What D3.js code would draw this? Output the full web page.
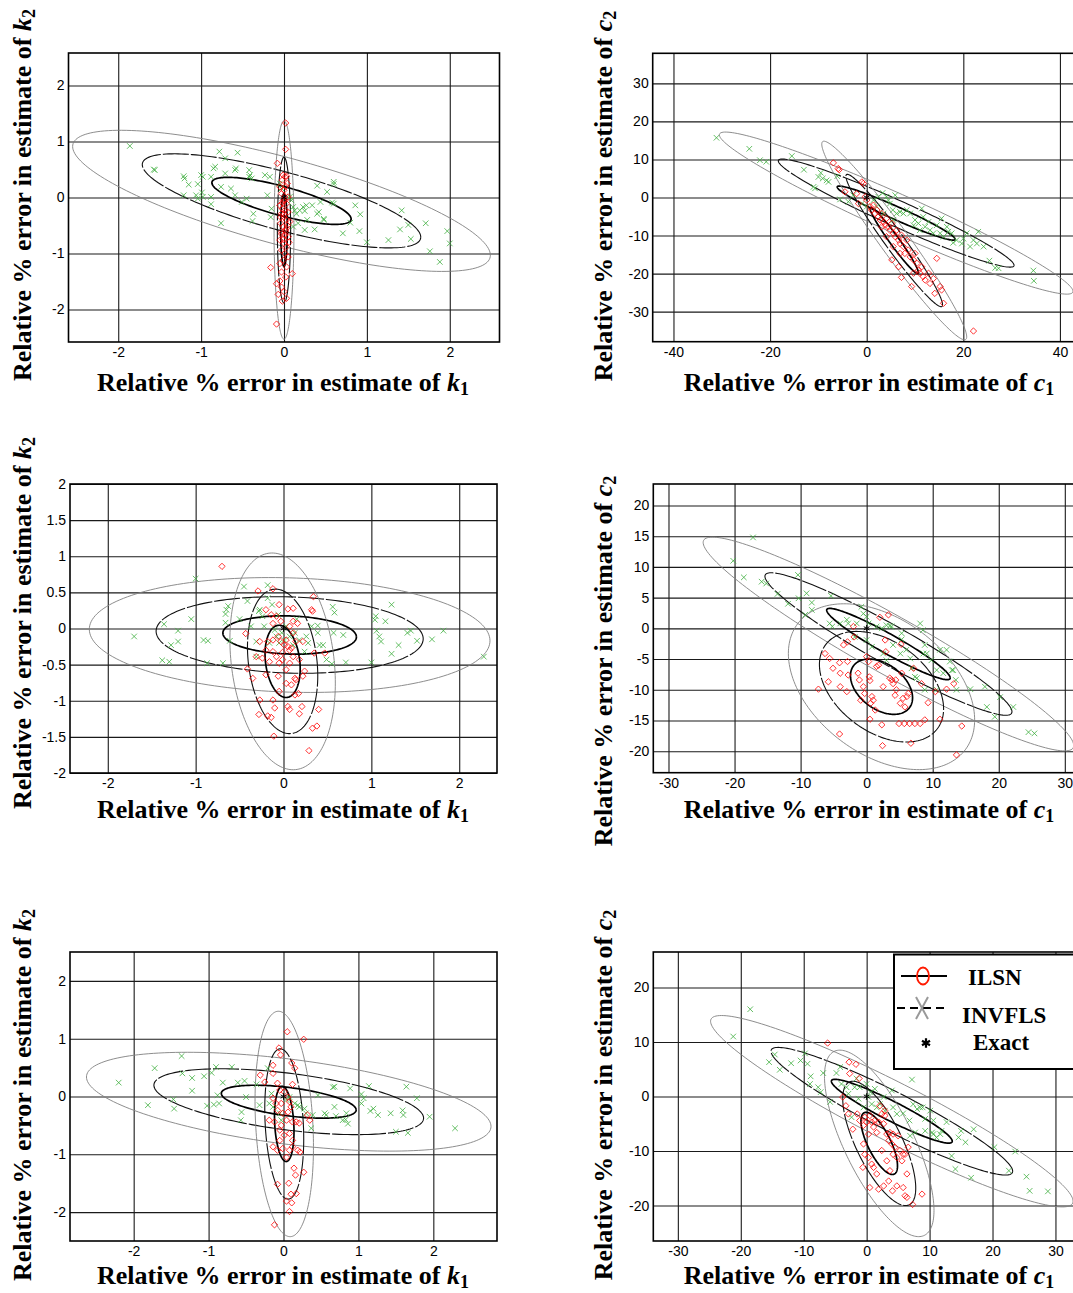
<!DOCTYPE html>
<html><head><meta charset="utf-8">
<script src="https://cdn.jsdelivr.net/npm/d3@7"></script>
<style>body{margin:0;background:#fff}</style>
</head><body>
<svg id="c" width="1073" height="1293"></svg>
<script>
// ---------------- DATA ----------------
const seriesNames = ["ILSN", "INVFLS", "Exact"];
const ellipseLevels = [1, 2, 3];

// tick values and labels
const kTicks = [-2, -1, 0, 1, 2];
const kTickLabels = ["-2", "-1", "0", "1", "2"];
const k2TicksHalf = [-2, -1.5, -1, -0.5, 0, 0.5, 1, 1.5, 2];
const k2TicksHalfLabels = ["-2", "-1.5", "-1", "-0.5", "0", "0.5", "1", "1.5", "2"];
const c1Ticks40 = [-40, -20, 0, 20, 40];
const c1Ticks40Labels = ["-40", "-20", "0", "20", "40"];
const c2Ticks30 = [-30, -20, -10, 0, 10, 20, 30];
const c2Ticks30Labels = ["-30", "-20", "-10", "0", "10", "20", "30"];
const c1Ticks30 = [-30, -20, -10, 0, 10, 20, 30];
const c1Ticks30Labels = ["-30", "-20", "-10", "0", "10", "20", "30"];
const c2Ticks5 = [-20, -15, -10, -5, 0, 5, 10, 15, 20];
const c2Ticks5Labels = ["-20", "-15", "-10", "-5", "0", "5", "10", "15", "20"];
const c2Ticks10 = [-20, -10, 0, 10, 20];
const c2Ticks10Labels = ["-20", "-10", "0", "10", "20"];

// ellipse parameters [cx, cy, sx, sy, rho]
const ell1ILSN = [0, -0.58, 0.04, 0.65, 0];
const ell1INV = [-0.03, -0.06, 0.84, 0.42, -0.77];
const ell2ILSN = [5.7, -11.3, 5.0, 8.7, -0.97];
const ell2INV = [6.1, -4.1, 12.2, 7.1, -0.965];
const ell3ILSN = [-0.01, -0.455, 0.2, 0.5, -0.2];
const ell3INV = [0.07, -0.09, 0.76, 0.265, -0.1];
const ell4ILSN = [2.25, -9.5, 4.7, 4.5, -0.4];
const ell4INV = [3.3, -2.55, 9.35, 5.8, -0.95];
const ell5ILSN = [0.01, -0.475, 0.13, 0.65, -0.2];
const ell5INV = [0.07, -0.09, 0.9, 0.285, -0.5];
const ell6ILSN = [2, -8.6, 2.9, 5.7, -0.72];
const ell6INV = [4, -2.7, 9.6, 5.85, -0.94];

// exact value
const exactPoint = [0, 0];

// Panel 1 (k1,k2)
const p1ILSN = [[0.02,1.33],[0.02,0.86],[-0.08,0.61],[-0.01,0.40],[0.01,0.37],[0.03,0.38],[-0.02,0.31],[0.04,0.25],[-0.05,0.19],[0,0.13],[-0.03,0.07],[0.01,0.01],[0.05,0.01],[-0.01,-0.05],[0.03,-0.11],[-0.05,-0.14],[-0.02,-0.20],[0.01,-0.23],[0.05,-0.26],[-0.03,-0.29],[0,-0.35],[0.03,-0.40],[0.07,-0.43],[-0.04,-0.46],[-0.01,-0.52],[0.03,-0.55],[-0.03,-0.61],[0.01,-0.67],[0.05,-0.70],[-0.05,-0.76],[0,-0.82],[0.03,-0.88],[-0.03,-0.94],[0.01,-1.00],[0.05,-1.06],[-0.01,-1.12],[-0.05,-1.18],[0.03,-1.24],[-0.16,-1.25],[0.10,-1.36],[-0.03,-1.33],[0.02,-1.42],[-0.05,-1.49],[-0.09,-1.54],[-0.03,-1.60],[0,-1.68],[-0.07,-1.73],[0.03,-1.80],[-0.02,-1.85],[-0.09,-2.26],[0.0,-0.3],[-0.02,-0.1],[0.02,-0.6],[-0.01,-0.75],[0.04,-0.5],[-0.04,-0.35],[0.01,-0.05],[0.02,0.2],[-0.03,-0.65],[0.06,-0.8]];
const p1INV = [[-1.86,0.92],[-1.56,0.49],[-1.57,0.50],[-1.21,0.38],[-1.20,0.34],[-1.15,0.23],[-1.04,0.24],[-1.00,0.40],[-0.98,0.37],[-1.06,0.04],[-1.04,-0.02],[-0.99,0.09],[-1.21,0.04],[-0.88,0.37],[-0.85,0.52],[-0.83,0.55],[-0.78,0.82],[-0.71,0.70],[-0.56,0.80],[-0.58,0.52],[-0.59,0.49],[-0.71,0.43],[-0.76,0.19],[-0.64,0.16],[-0.88,-0.12],[-0.98,0.01],[-0.88,0.01],[-0.76,-0.46],[-0.59,0.04],[-0.51,-0.08],[-0.45,-0.02],[-0.42,0.49],[-0.41,0.40],[-0.39,0.34],[-0.42,0.37],[-0.37,-0.29],[-0.38,-0.42],[-0.23,0.40],[-0.17,0.37],[-0.20,0.04],[-0.15,-0.20],[-0.16,-0.35],[-0.05,0.25],[-0.03,0.16],[0.07,0.01],[0.09,-0.05],[0.11,-0.17],[0.13,-0.23],[0.15,-0.29],[0.19,-0.23],[0.23,-0.17],[0.25,-0.24],[0.27,-0.14],[0.28,-0.40],[0.34,-0.14],[0.40,0.21],[0.42,-0.26],[0.40,-0.29],[0.44,-0.08],[0.48,-0.40],[0.48,-0.38],[0.25,-0.58],[0.37,-0.57],[0.17,-0.46],[0.11,-0.52],[0.52,0.10],[0.60,0.24],[0.60,0.28],[0.58,-0.09],[0.60,-0.11],[0.71,-0.64],[0.80,-0.45],[0.86,-0.14],[0.92,-0.30],[0.91,-0.60],[1.00,-0.80],[1.26,-0.76],[1.40,-0.57],[1.42,-0.23],[1.50,-0.49],[1.53,-0.74],[1.71,-0.46],[1.76,-0.96],[1.88,-1.15],[1.97,-0.60],[2.00,-0.82]];

// Panel 2 (c1,c2)
const p2ILSN = [[-6.9,9.1],[-5.9,7.6],[-5.7,7.3],[-4.5,1.5],[-2.1,1.0],[-1.7,-1.6],[-1.0,4.1],[-0.7,3.7],[-0.3,0.2],[0,-0.7],[0.7,-2.4],[1.0,-3.3],[1.4,-2.0],[1.7,-4.2],[2.1,-3.3],[2.4,-5.1],[2.8,-5.9],[3.1,-4.2],[3.5,-6.4],[3.8,-7.3],[4.1,-5.5],[4.5,-7.7],[4.8,-8.6],[5.2,-6.8],[5.5,-9.4],[5.9,-10.3],[6.2,-8.6],[6.6,-11.2],[6.9,-12.1],[7.2,-9.9],[7.6,-12.9],[7.9,-14.7],[8.3,-11.2],[8.6,-13.8],[9.0,-15.6],[9.7,-16.4],[10.0,-14.7],[10.4,-17.3],[10.7,-19.1],[11.0,-19.9],[11.4,-18.2],[11.7,-20.8],[12.1,-21.7],[12.8,-19.9],[13.1,-22.6],[13.8,-21.3],[14.5,-16.0],[14.1,-25.2],[15.2,-23.4],[15.5,-24.3],[15.9,-27.8],[22.1,-35.1],[5.2,-16.4],[7.2,-21.0],[9.3,-23.4],[6.6,-18.2],[9.7,-19.9],[4.1,-10.3],[3.1,-7.7],[5.5,-12.9],[6.9,-14.7]];
const p2INV = [[-31.1,15.7],[-24.3,12.8],[-22.1,9.8],[-20.8,9.4],[-15.5,10.9],[-13.0,7.3],[-11.0,2.8],[-10.7,2.4],[-10.0,5.4],[-9.5,6.5],[-9.1,5.0],[-8.3,4.5],[-7.9,4.1],[-6.1,5.6],[-5.5,-0.5],[-3.8,-1.1],[-2.8,0.6],[-1.0,-1.6],[0,-2.4],[1.4,-0.7],[2.4,0.2],[3.3,1.2],[4.1,0.2],[4.5,-0.7],[5.9,0.6],[5.4,-3.3],[6.2,-4.2],[6.9,-3.8],[7.6,-4.2],[8.3,-3.3],[9.0,-4.2],[10.0,-5.9],[10.7,-6.8],[11.4,-2.9],[11.7,-5.1],[12.1,-7.7],[12.8,-6.4],[13.1,-8.6],[13.8,-9.4],[14.5,-7.3],[15.2,-9.4],[15.5,-5.5],[15.9,-10.3],[16.9,-9.0],[17.6,-9.4],[18.6,-11.2],[19.7,-12.1],[20.0,-10.8],[20.7,-9.4],[21.4,-12.9],[22.1,-11.2],[23.1,-9.0],[22.8,-12.1],[24.2,-12.9],[25.4,-16.6],[26.6,-18.5],[27.3,-18.6],[34.5,-19.2],[34.6,-21.9],[2.1,-2.4],[3.5,-4.2],[4.8,-1.6],[9.7,-7.3],[11.0,-8.6],[5.5,-5.9],[17.9,-11.9],[16.6,-7.7]];

// Panel 3 (k1,k2)
const p3ILSN = [[-0.70,0.86],[-0.29,0.52],[-0.12,0.55],[-0.05,0.33],[0.05,0.27],[0.11,0.28],[0.34,0.44],[0.32,0.26],[0.33,0.24],[-0.20,0.26],[-0.14,0.19],[-0.08,0.17],[-0.03,0.10],[-0.12,0.07],[0.07,0.03],[0.16,0.07],[-0.43,-0.07],[-0.27,-0.18],[-0.20,-0.30],[-0.18,-0.18],[-0.12,-0.16],[-0.06,-0.11],[-0.03,-0.18],[0.01,-0.23],[0.05,-0.25],[0.07,-0.30],[0.09,-0.27],[0.11,-0.06],[0.14,-0.18],[0.22,-0.18],[0.35,-0.34],[0.47,-0.34],[-0.31,-0.39],[-0.24,-0.41],[-0.16,-0.46],[-0.12,-0.32],[-0.08,-0.39],[-0.05,-0.48],[-0.01,-0.43],[0.03,-0.57],[0.07,-0.48],[0.11,-0.39],[0.18,-0.43],[0.24,-0.59],[0.22,-0.66],[-0.41,-0.56],[-0.35,-0.69],[-0.20,-0.64],[-0.06,-0.66],[0.03,-0.76],[0.09,-0.78],[0.13,-0.69],[0.14,-0.71],[-0.27,-0.99],[-0.12,-0.99],[-0.05,-0.87],[0.13,-0.92],[0.17,-0.90],[-0.10,-1.10],[0.05,-1.08],[0.07,-1.12],[0.21,-1.08],[0.18,-1.18],[0.40,-1.12],[-0.28,-1.19],[-0.18,-1.21],[-0.14,-1.23],[0.38,-1.35],[0.33,-1.38],[-0.11,-1.49],[0.29,-1.69],[-0.01,-0.33],[0.03,-0.16],[0.11,0.10]];
const p3INV = [[-1.70,-0.11],[-1.36,0.06],[-1.38,-0.44],[-1.30,-0.46],[-1.28,-0.23],[-1.20,-0.03],[-1.20,-0.18],[-1.05,0.13],[-1.00,0.69],[-0.91,-0.16],[-0.86,-0.17],[-0.87,-0.48],[-0.69,-0.48],[-0.66,0.08],[-0.66,0.20],[-0.65,0.26],[-0.63,0.31],[-0.61,-0.17],[-0.50,0.13],[-0.45,0.58],[-0.41,0.38],[-0.37,0.03],[-0.31,-0.18],[-0.31,-0.39],[-0.28,0.24],[-0.27,0.26],[-0.24,0.17],[-0.22,0.03],[-0.18,0.60],[-0.18,0.42],[-0.16,-0.20],[-0.13,0.33],[-0.10,-0.02],[-0.08,-0.11],[-0.06,0.19],[-0.05,-0.20],[-0.02,-0.06],[0.01,-0.16],[0.03,0.03],[0.07,-0.11],[0.11,-0.23],[0.13,-0.06],[0.15,0.13],[0.18,-0.16],[0.24,-0.32],[0.26,-0.11],[0.28,-0.20],[0.32,0.03],[0.39,0.04],[0.39,-0.06],[0.41,-0.23],[0.45,-0.23],[0.49,-0.43],[0.56,0.30],[0.58,0.22],[0.57,-0.06],[0.55,-0.49],[0.68,-0.09],[0.71,-0.47],[1.00,-0.47],[1.04,0.12],[1.05,0.17],[1.06,-0.03],[1.09,-0.11],[1.11,-0.18],[1.16,0.10],[1.23,0.33],[1.23,-0.35],[1.31,-0.23],[1.41,-0.06],[1.45,-0.03],[1.52,-0.17],[1.69,-0.15],[1.82,-0.03],[2.28,-0.39]];

// Panel 4 (c1,c2)
const p4ILSN = [[-7.3,-9.9],[-6.3,-4.1],[-5.6,-4.9],[-5.8,-8.7],[-5.1,-6.5],[-4.1,-5.6],[-4.0,-7.3],[-4.0,-9.5],[-3.5,-2.7],[-2.9,-2.2],[-2.9,-5.4],[-2.8,-7.6],[-3.0,-10.3],[-4.1,-17.2],[-2.0,0.3],[-1.9,-1.4],[-1.3,-7.3],[-1.1,-8.4],[-0.9,-11.7],[-0.5,-9.5],[-0.3,-10.6],[0,-4.6],[0.3,-5.4],[0.4,-7.9],[0.5,-8.5],[0.6,-12.2],[0.5,-14.8],[0.8,-11.1],[1.0,-11.7],[1.3,-13.3],[1.5,-6.2],[1.8,-6.0],[2.0,1.8],[2.3,-15.7],[2.4,-19.1],[2.5,-9.5],[2.8,-1.9],[2.9,-3.8],[3.3,2.2],[3.5,-8.1],[3.8,-8.4],[4.0,-9.0],[4.3,-10.9],[4.4,-8.4],[4.5,-10.0],[4.9,-15.5],[5.1,-12.2],[5.2,-2.6],[5.3,-7.3],[5.5,-11.4],[5.7,-15.5],[5.8,-12.8],[6.1,-11.1],[6.3,-10.6],[6.5,-15.5],[6.7,-18.7],[7.1,-6.5],[7.3,-15.5],[8.1,-15.5],[8.3,-9.0],[8.8,-14.9],[9.3,-12.1],[10.4,-10.3],[11.1,-14.8],[12.1,-9.9],[13.2,-9.0],[13.6,-20.6],[14.4,-15.9]];
const p4INV = [[-17.2,14.8],[-20.2,11.0],[-18.6,8.3],[-15.9,7.6],[-15.2,7.3],[-13.5,5.6],[-11.9,4.0],[-10.4,8.7],[-10.3,4.9],[-9.1,5.7],[-9.3,2.2],[-8.3,4.2],[-8.3,3.0],[-5.4,5.3],[-5.6,0.8],[-5.2,0.3],[-4.0,0.8],[-3.0,1.4],[-2.8,0.8],[-1.8,-1.4],[-1.5,0.8],[-0.8,3.5],[-0.5,2.4],[0,1.9],[0.3,0.8],[0,-1.9],[0.8,-3.0],[1.5,0.3],[2.3,0],[3.0,0.5],[3.5,0.4],[3.8,0.3],[2.5,-4.1],[3.0,-5.2],[4.0,-2.7],[5.3,-0.8],[5.3,-1.8],[5.1,-4.1],[6.0,-3.5],[6.6,-4.9],[6.8,-6.5],[7.3,-7.9],[7.6,-8.1],[8.1,0.8],[8.5,-0.3],[8.6,-4.1],[8.8,-2.7],[9.1,-4.1],[8.8,-10.0],[9.8,-5.2],[10.6,-6.8],[10.6,-10.0],[11.1,-3.5],[11.6,-7.3],[12.6,-5.4],[12.9,-6.8],[13.1,-6.8],[13.5,-8.4],[13.6,-10.0],[15.7,-9.9],[17.9,-9.5],[18.2,-12.8],[19.4,-14.4],[20.2,-11.2],[22.2,-12.8],[24.5,-16.9],[25.4,-17.1],[12.1,-3.5]];

// Panel 5 (k1,k2)
const p5ILSN = [[0.05,1.12],[0.27,0.99],[-0.06,0.84],[-0.04,0.72],[0.11,0.58],[0.15,0.49],[-0.14,0.54],[-0.31,0.37],[-0.25,0.25],[-0.14,0.40],[-0.08,0.23],[0.12,0.21],[-0.05,0.11],[0.01,0.08],[-0.14,-0.03],[-0.10,-0.12],[-0.03,-0.12],[0.06,-0.01],[0.08,-0.09],[0.10,-0.18],[-0.08,-0.24],[-0.01,-0.29],[0.06,-0.27],[-0.19,-0.41],[-0.12,-0.44],[-0.03,-0.50],[0.04,-0.41],[0.12,-0.44],[0.17,-0.44],[0.21,-0.46],[0.32,-0.32],[0.35,-0.41],[-0.05,-0.58],[0.01,-0.67],[0.08,-0.64],[0.12,-0.76],[-0.05,-0.76],[-0.14,-0.87],[-0.08,-0.93],[-0.01,-0.90],[0.08,-0.93],[0.12,-0.87],[0.19,-0.93],[0.22,-0.96],[0.04,-1.05],[0.14,-1.24],[0.16,-1.36],[0.27,-1.31],[-0.08,-1.52],[0.07,-1.50],[0.10,-1.69],[0.17,-1.68],[0.04,-1.81],[0.11,-1.84],[0.08,-1.99],[-0.12,-2.22]];
const p5INV = [[-2.20,0.24],[-1.81,-0.15],[-1.72,0.49],[-1.47,-0.05],[-1.46,-0.21],[-1.36,0.70],[-1.35,0.40],[-1.22,0.32],[-1.22,0.10],[-1.06,0.35],[-1.02,-0.16],[-0.96,0.41],[-0.93,-0.14],[-0.90,0.51],[-0.88,0.02],[-0.86,-0.12],[-0.81,0.24],[-0.69,0.51],[-0.61,0.24],[-0.56,-0.27],[-0.57,-0.41],[-0.52,0.27],[-0.50,-0.01],[-0.36,0.21],[-0.32,-0.15],[-0.21,0.49],[-0.19,-0.12],[-0.16,0.05],[-0.14,-0.18],[-0.05,-0.29],[-0.03,-0.41],[0.04,-0.06],[0.08,-0.01],[0.15,-0.12],[0.19,-0.15],[0.21,-0.18],[0.28,-0.21],[0.30,-0.29],[0.37,-0.55],[0.39,-0.32],[0.46,0.02],[0.55,-0.29],[0.57,-0.32],[0.66,0.16],[0.68,0.17],[0.68,-0.18],[0.70,-0.34],[0.79,-0.41],[0.83,-0.40],[0.86,-0.47],[0.84,-0.29],[0.89,0.14],[1.04,0.04],[1.04,-0.12],[1.07,-0.03],[1.14,0.18],[1.16,-0.25],[1.20,-0.21],[1.26,-0.32],[1.43,-0.29],[1.50,-0.61],[1.59,-0.24],[1.60,-0.32],[1.64,0.17],[1.66,-0.63],[1.78,-0.03],[1.95,-0.35],[2.29,-0.55]];

// Panel 6 (c1,c2)
const p6ILSN = [[-6.2,9.8],[-2.8,6.3],[-1.7,5.9],[-2.7,4.2],[-1.2,3.3],[-3.8,-0.1],[-3.3,-1.7],[-2.9,-3.2],[-2.2,-6.0],[-1.5,-3.2],[-1.1,-4.4],[-0.5,-5.3],[-0.3,-3.8],[0,-4.7],[0.3,-6.9],[0.5,-3.5],[0.8,-4.7],[1.1,-5.6],[1.3,-4.4],[1.6,-6.6],[1.9,-4.7],[2.1,-1.7],[2.4,-3.2],[2.7,-5.0],[2.9,-2.6],[3.2,-6.9],[3.5,-8.1],[3.7,-6.6],[4.0,-8.7],[4.2,-10.6],[4.5,-9.3],[4.8,-11.2],[5.0,-7.2],[5.3,-9.9],[5.6,-11.8],[5.8,-10.6],[6.1,-10.6],[6.4,-14.2],[6.6,-9.3],[-0.5,-8.7],[-0.3,-10.6],[0.3,-11.2],[0.8,-12.4],[0.5,-16.7],[1.1,-13.0],[1.6,-14.2],[1.9,-17.0],[2.4,-9.9],[2.7,-16.4],[3.2,-11.8],[3.5,-15.5],[3.7,-13.6],[4.1,-17.3],[4.8,-16.4],[5.8,-16.7],[6.1,-18.2],[6.4,-18.5],[7.3,-19.8],[8.8,-17.9],[-0.6,-13.0],[2.9,-3.5],[4.2,-6.9]];
const p6INV = [[-18.5,16.0],[-21.2,11.0],[-15.5,6.3],[-14.6,7.7],[-13.8,4.9],[-12.0,6.1],[-10.5,6.6],[-9.8,7.9],[-9.4,6.0],[-8.9,3.7],[-9.0,2.3],[-7.7,1.7],[-7.3,0.8],[-6.9,4.3],[-5.8,-1.0],[-4.8,4.3],[-4.2,5.4],[-4.0,2.3],[-3.2,1.7],[-2.9,0.5],[-2.4,-3.8],[-1.9,1.7],[-1.6,3.3],[-1.3,-0.4],[-1.1,1.7],[-0.5,-2.0],[0,2.3],[0.3,-0.1],[0.6,0.8],[0.8,-1.4],[1.3,1.4],[1.6,-2.0],[2.1,-1.4],[2.7,-0.1],[2.9,-2.6],[4.0,1.1],[4.2,-2.0],[4.8,-3.2],[5.8,-3.1],[6.8,-4.4],[6.9,-7.2],[7.2,3.1],[7.4,-1.4],[7.7,-6.6],[8.0,-2.3],[8.5,-2.0],[8.9,-2.0],[9.3,-4.1],[9.3,-6.3],[10.1,-2.6],[10.4,-6.6],[10.6,-6.9],[11.1,-7.5],[11.9,-6.3],[12.7,-4.7],[13.5,-10.9],[14.1,-13.3],[14.6,-7.5],[15.0,-6.3],[15.7,-8.4],[16.6,-14.9],[17.0,-6.0],[20.3,-9.3],[22.6,-13.6],[23.6,-10.1],[25.4,-14.7],[25.9,-17.3],[28.8,-17.4],[10.6,-4.4],[11.7,-6.9]];

// ---------------- LAYOUT ----------------
const SERIF = "'Liberation Serif','Times New Roman',Times,serif";
const SANS = "'Liberation Sans',Arial,Helvetica,sans-serif";
const RED = "#ff0000", GREEN = "#3fae3f";

const panels = [
  {id:1, left:68.5, right:499.5, top:53, bottom:342, xdom:[-2.6,2.6], ydom:[-2.58,2.58],
   xt:kTicks, xl:kTickLabels, yt:kTicks, yl:kTickLabels, ilsn:p1ILSN, inv:p1INV, eI:ell1ILSN, eV:ell1INV,
   xlab:"k", xsub:"1", ylab:"k", ysub:"2", ylx:31, yly:195, xlx:283, xly:391},
  {id:2, left:652.7, right:1080.7, top:53.3, bottom:341.7, xdom:[-44.3,44.3], ydom:[-37.9,37.9],
   xt:c1Ticks40, xl:c1Ticks40Labels, yt:c2Ticks30, yl:c2Ticks30Labels, ilsn:p2ILSN, inv:p2INV, eI:ell2ILSN, eV:ell2INV,
   xlab:"c", xsub:"1", ylab:"c", ysub:"2", ylx:612, yly:196, xlx:869, xly:391},
  {id:3, left:70, right:497, top:484, bottom:773, xdom:[-2.43,2.43], ydom:[-2,2],
   xt:kTicks, xl:kTickLabels, yt:k2TicksHalf, yl:k2TicksHalfLabels, ilsn:p3ILSN, inv:p3INV, eI:ell3ILSN, eV:ell3INV,
   xlab:"k", xsub:"1", ylab:"k", ysub:"2", ylx:31, yly:623, xlx:283, xly:818},
  {id:4, left:653.3, right:1080, top:484, bottom:772.7, xdom:[-32.3,32.3], ydom:[-23.5,23.5],
   xt:c1Ticks30, xl:c1Ticks30Labels, yt:c2Ticks5, yl:c2Ticks5Labels, ilsn:p4ILSN, inv:p4INV, eI:ell4ILSN, eV:ell4INV,
   xlab:"c", xsub:"1", ylab:"c", ysub:"2", ylx:612, yly:661, xlx:869, xly:818},
  {id:5, left:70, right:497, top:952, bottom:1241, xdom:[-2.85,2.85], ydom:[-2.5,2.5],
   xt:kTicks, xl:kTickLabels, yt:kTicks, yl:kTickLabels, ilsn:p5ILSN, inv:p5INV, eI:ell5ILSN, eV:ell5INV,
   xlab:"k", xsub:"1", ylab:"k", ysub:"2", ylx:31, yly:1095, xlx:283, xly:1284},
  {id:6, left:653.3, right:1080, top:952, bottom:1241, xdom:[-33.9,33.9], ydom:[-26.5,26.5],
   xt:c1Ticks30, xl:c1Ticks30Labels, yt:c2Ticks10, yl:c2Ticks10Labels, ilsn:p6ILSN, inv:p6INV, eI:ell6ILSN, eV:ell6INV,
   xlab:"c", xsub:"1", ylab:"c", ysub:"2", ylx:612, yly:1095, xlx:869, xly:1284}
];

const levelStyle = [
  {stroke:"#000", w:1.7, dash:null},
  {stroke:"#111", w:1.1, dash:"26,2"},
  {stroke:"#808080", w:0.9, dash:null}
];

const svg = d3.select("#c");
const defs = svg.append("defs");

const diamondType = {draw(ctx, size){ const r = Math.sqrt(size)/2; ctx.moveTo(0,-r); ctx.lineTo(r,0); ctx.lineTo(0,r); ctx.lineTo(-r,0); ctx.closePath(); }};
const diamond = d3.symbol().type(diamondType).size(40);
const xmark = d3.symbol().type(d3.symbolX).size(22);
const star = d3.symbol().type(d3.symbolAsterisk).size(30);

function ellipsePts(p, k){
  const [cx, cy, sx, sy, rho] = p;
  const s = Math.sqrt(1 - rho*rho);
  return d3.range(0, 181).map(i => {
    const t = i/180*2*Math.PI;
    return [cx + k*sx*Math.cos(t), cy + k*sy*(rho*Math.cos(t) + s*Math.sin(t))];
  });
}

function axisLabel(g, x, y, rot, letter, sub){
  const t = g.append("text")
    .attr("transform", `translate(${x},${y}) rotate(${rot})`)
    .attr("text-anchor","middle")
    .attr("font-family", SERIF).attr("font-weight","bold").attr("font-size", 26)
    .attr("fill","#000");
  t.append("tspan").text("Relative % error in estimate of ");
  t.append("tspan").attr("font-style","italic").text(letter);
  t.append("tspan").attr("font-size", 18).attr("dy", 4).text(sub);
}

panels.forEach(P => {
  const g = svg.append("g");
  const x = d3.scaleLinear().domain(P.xdom).range([P.left, P.right]);
  const y = d3.scaleLinear().domain(P.ydom).range([P.bottom, P.top]);
  const W = P.right - P.left, H = P.bottom - P.top;

  defs.append("clipPath").attr("id","clip"+P.id)
    .append("rect").attr("x",P.left).attr("y",P.top).attr("width",W).attr("height",H);

  const xa = g.append("g").attr("transform",`translate(0,${P.bottom})`)
    .call(d3.axisBottom(x).tickValues(P.xt).tickFormat((d,i)=>P.xl[i]).tickSize(-H).tickPadding(5));
  const ya = g.append("g").attr("transform",`translate(${P.left},0)`)
    .call(d3.axisLeft(y).tickValues(P.yt).tickFormat((d,i)=>P.yl[i]).tickSize(-W).tickPadding(4));
  [xa, ya].forEach(a => {
    a.select(".domain").remove();
    a.selectAll(".tick line").attr("stroke","#1a1a1a").attr("stroke-width",1.1);
    a.selectAll(".tick text").attr("font-family",SANS).attr("font-size",14).attr("fill","#000");
  });

  const plot = g.append("g").attr("clip-path",`url(#clip${P.id})`);

  const line = d3.line().x(d=>x(d[0])).y(d=>y(d[1]));
  [P.eV, P.eI].forEach(par => {
    ellipseLevels.forEach((k,i) => {
      const st = levelStyle[i];
      plot.append("path").attr("d", line(ellipsePts(par,k)))
        .attr("fill","none").attr("stroke",st.stroke).attr("stroke-width",st.w)
        .attr("stroke-dasharray", st.dash);
    });
  });

  plot.selectAll(".inv").data(P.inv).join("path")
    .attr("transform", d=>`translate(${x(d[0])},${y(d[1])})`)
    .attr("d", xmark).attr("fill","none").attr("stroke",GREEN).attr("stroke-width",0.8);
  plot.selectAll(".ils").data(P.ilsn).join("path")
    .attr("transform", d=>`translate(${x(d[0])},${y(d[1])})`)
    .attr("d", diamond).attr("fill","none").attr("stroke",RED).attr("stroke-width",0.8);
  plot.append("path").attr("transform",`translate(${x(exactPoint[0])},${y(exactPoint[1])})`)
    .attr("d", star).attr("fill","none").attr("stroke","#000").attr("stroke-width",1);

  g.append("rect").attr("x",P.left).attr("y",P.top).attr("width",W).attr("height",H)
    .attr("fill","none").attr("stroke","#000").attr("stroke-width",1.6);

  axisLabel(g, P.xlx, P.xly, 0, P.xlab, P.xsub);
  axisLabel(g, P.ylx, P.yly, -90, P.ylab, P.ysub);
});

// ---------------- LEGEND (panel 6) ----------------
const lg = svg.append("g");
lg.append("rect").attr("x",894).attr("y",954.5).attr("width",200).attr("height",114.5)
  .attr("fill","#fff").attr("stroke","#000").attr("stroke-width",2);
lg.append("line").attr("x1",901).attr("x2",947).attr("y1",976).attr("y2",976).attr("stroke","#000").attr("stroke-width",2);
lg.append("ellipse").attr("cx",923).attr("cy",976).attr("rx",6).attr("ry",8.5).attr("fill","none").attr("stroke","#ff1a00").attr("stroke-width",1.8);
lg.append("line").attr("x1",897).attr("x2",948).attr("y1",1008).attr("y2",1008).attr("stroke","#000").attr("stroke-width",1.8).attr("stroke-dasharray","8,5");
lg.append("path").attr("d","M916,997L928,1019M928,997L916,1019").attr("stroke","#999").attr("stroke-width",2).attr("fill","none");
lg.append("path").attr("transform","translate(926,1043)").attr("d", d3.symbol().type(d3.symbolAsterisk).size(60)).attr("stroke","#000").attr("stroke-width",2.2).attr("fill","none");
const legTxt = [["ILSN",968,985],["INVFLS",962,1023],["Exact",973,1050]];
legTxt.forEach(([t,xx,yy]) => lg.append("text").attr("x",xx).attr("y",yy).attr("font-family",SERIF)
  .attr("font-weight","bold").attr("font-size",23).attr("fill","#000").text(t));
</script>
</body></html>
